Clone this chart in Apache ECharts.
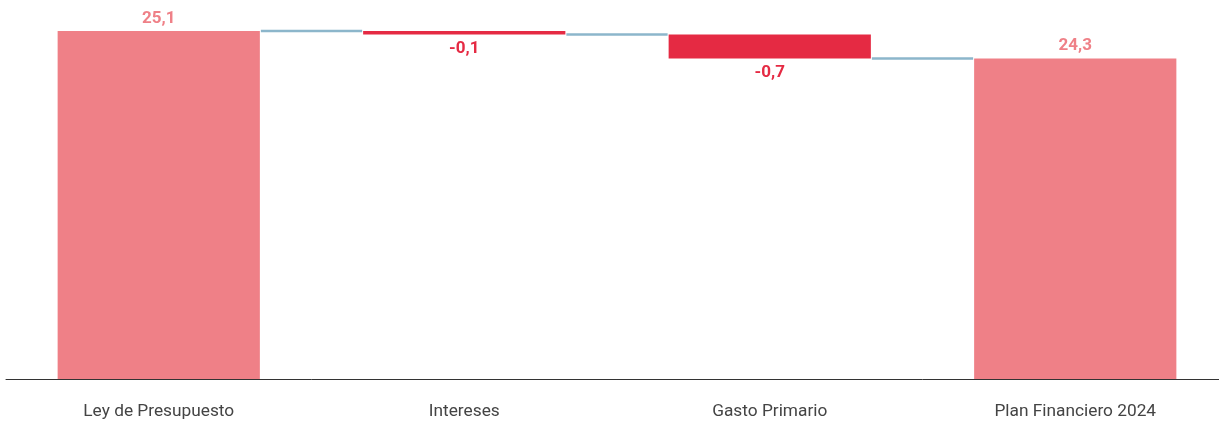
<!DOCTYPE html>
<html>
<head>
<meta charset="utf-8">
<script src="https://cdn.jsdelivr.net/npm/echarts@6/dist/echarts.min.js"></script>
<style>
html,body{margin:0;padding:0;background:#fff;overflow:hidden;width:1219px;height:423px;}
#chart{width:1228px;height:423px;}
</style>
</head>
<body>
<div id="chart"></div>
<script>
const categories = ['Ley de Presupuesto', 'Intereses', 'Gasto Primario', 'Plan Financiero 2024'];
const values = [25.1, -0.1, -0.7, 24.3];
const isTotal = [true, false, false, true];
const valueLabels = ['25,1', '-0,1', '-0,7', '24,3'];
const yMin = 15;
const yMax = 25.1;

const COLOR_TOTAL = '#ef8087';
const COLOR_NEG = '#e52a43';
const COLOR_CONNECTOR = '#8cb6cb';

// build [index, start, end]
const rows = [];
let running = 0;
values.forEach((v, i) => {
  let s, e;
  if (isTotal[i]) { s = 0; e = v; running = v; }
  else { s = running; e = running + v; running = e; }
  rows.push([i, s, e]);
});

const chart = echarts.init(document.getElementById('chart'), null, {renderer: 'canvas'});

function renderItem(params, api) {
  const i = api.value(0);
  const s = api.value(1);
  const e = api.value(2);
  const bandW = api.size([1, 0])[0];
  const w = bandW * 0.662;
  const pS = api.coord([i, Math.max(s, yMin)]);
  const pE = api.coord([i, e]);
  const top = Math.min(pS[1], pE[1]);
  const bottom = Math.max(pS[1], pE[1]);
  const total = isTotal[i];
  const color = total ? COLOR_TOTAL : COLOR_NEG;
  const children = [{
    type: 'rect',
    shape: {x: pS[0] - w / 2, y: top, width: w, height: bottom - top},
    style: {fill: color}
  }];
  children.push({
    type: 'text',
    style: {
      text: valueLabels[i],
      x: pS[0],
      y: total ? top - 12.5 : bottom + 14,
      align: 'center',
      verticalAlign: 'middle',
      fill: color,
      font: 'bold 17px Roboto, "Liberation Sans", sans-serif'
    }
  });
  if (i < rows.length - 1) {
    const yC = pE[1];
    children.push({
      type: 'line',
      shape: {x1: pS[0] + w / 2 + 1, y1: yC, x2: pS[0] + bandW - w / 2 - 1, y2: yC},
      style: {stroke: COLOR_CONNECTOR, lineWidth: 2.5}
    });
  }
  return {type: 'group', children: children};
}

chart.setOption({
  animation: false,
  backgroundColor: '#ffffff',
  grid: {left: 6, right: 0, top: 31, bottom: 44, containLabel: false},
  xAxis: {
    type: 'category',
    data: categories,
    axisLine: {show: true, lineStyle: {color: '#333', width: 1}},
    axisTick: {show: false},
    axisLabel: {
      color: '#444',
      fontSize: 17.3,
      fontFamily: 'Roboto, "Liberation Sans", sans-serif',
      margin: 24
    },
    splitLine: {show: false}
  },
  yAxis: {
    type: 'value',
    min: yMin,
    max: yMax,
    show: false,
    splitLine: {show: false}
  },
  series: [{
    type: 'custom',
    renderItem: renderItem,
    encode: {x: 0, y: [1, 2]},
    data: rows,
    clip: false
  }]
});
</script>
</body>
</html>
